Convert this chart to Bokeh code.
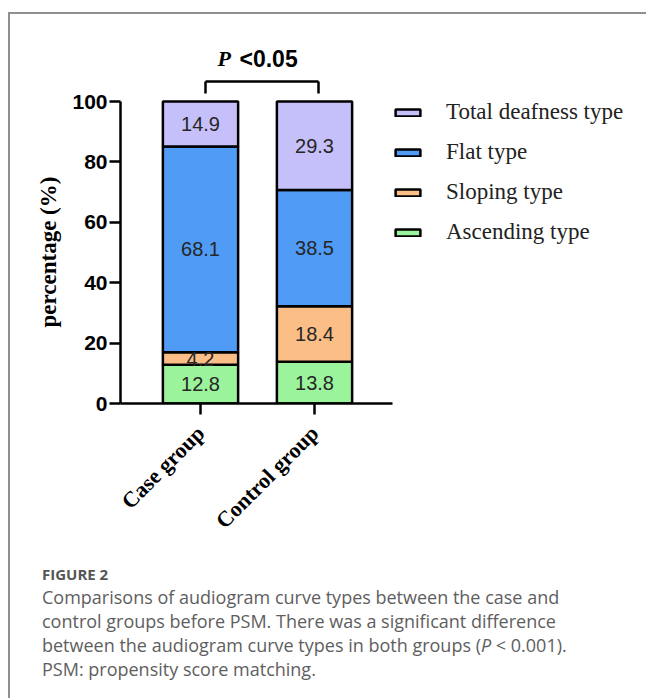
import math
from bokeh.plotting import figure
from bokeh.layouts import column
from bokeh.models import (ColumnDataSource, Range1d, FixedTicker, Div, Title,
                          Legend, LegendItem, Label, Arrow)
from bokeh.embed import file_html
from bokeh.resources import INLINE
from bokeh.core.properties import value

# ---------------- data ----------------
groups = ["Case group", "Control group"]
types = ["Ascending type", "Sloping type", "Flat type", "Total deafness type"]
ascending = [12.8, 13.8]
sloping = [4.2, 18.4]
flat = [68.1, 38.5]
total_deafness = [14.9, 29.3]
y_ticks = [0, 20, 40, 60, 80, 100]
y_label = "percentage (%)"
sig_text = ["P", "<0.05"]
caption_head = "FIGURE 2"
caption_lines = [
    "Comparisons of audiogram curve types between the case and",
    "control groups before PSM. There was a significant difference",
    "between the audiogram curve types in both groups (<i>P</i> &lt; 0.001).",
    "PSM: propensity score matching.",
]

colors = ["#9BF39B", "#FBBE86", "#4F9BF5", "#C5C0F9"]

# ---------------- layout constants ----------------
ORG_X, ORG_Y = 10, 14          # page position of the chart canvas (inside border)
W1, H1 = 634, 546
ML, MB = 110, 157
FRAME_W = W1 - ML
FRAME_H = H1 - MB
PPU_X, PPU_Y = 114.0, 3.02
xpos = [i + 1 for i in range(len(groups))]
X_START = xpos[0] - (200 - (ORG_X + ML)) / PPU_X
X_END = X_START + FRAME_W / PPU_X
Y_END = FRAME_H / PPU_Y
X_AXIS_END = xpos[-1] + (392 - 314) / PPU_X


def px_x(page_x):
    return X_START + (page_x - (ORG_X + ML)) / PPU_X


def px_y(page_y):
    return ((ORG_Y + FRAME_H) - page_y) / PPU_Y


p = figure(width=W1, height=H1,
           x_range=Range1d(X_START, X_END), y_range=Range1d(0, Y_END),
           output_backend="svg", toolbar_location=None,
           min_border_left=ML, min_border_right=0,
           min_border_top=0, min_border_bottom=MB)
p.xgrid.visible = False
p.ygrid.visible = False
p.outline_line_color = None

source = ColumnDataSource(dict(x=xpos, ascending=ascending, sloping=sloping,
                               flat=flat, total=total_deafness))
stackers = ["ascending", "sloping", "flat", "total"]
renderers = p.vbar_stack(stackers, x="x", width=0.66, fill_color=colors,
                         line_color="black", line_width=2.5, source=source)

# value labels
series = [ascending, sloping, flat, total_deafness]
lx, ly, lt = [], [], []
for i, xv in enumerate(xpos):
    base = 0.0
    for s in series:
        v = s[i]
        lx.append(xv)
        ly.append(base + v / 2.0)
        lt.append(f"{v:.1f}")
        base += v
p.text(x="x", y="y", text="t", source=ColumnDataSource(dict(x=lx, y=ly, t=lt)),
       text_align="center", text_baseline="middle",
       text_font=value("Liberation Sans"), text_font_size="20px",
       text_color="#262626")

# axes
yax = p.yaxis[0]
yax.ticker = FixedTicker(ticks=y_ticks)
yax.bounds = (0, 100)
yax.axis_line_width = 2.5
yax.major_tick_line_width = 2.5
yax.major_tick_out = 11
yax.major_tick_in = 0
yax.minor_tick_out = 0
yax.minor_tick_in = 0
yax.major_label_standoff = 2
yax.major_label_text_font = "Liberation Sans"
yax.major_label_text_font_style = "bold"
yax.major_label_text_font_size = "21px"
yax.major_label_text_color = "black"

# y-axis title placed along the 0-100 span (frame also holds the bracket above)
p.add_layout(Title(text=y_label, align="left", offset=76,
                   text_font="Liberation Serif", text_font_style="bold",
                   text_font_size="23px", text_color="black", standoff=17),
             "left")

xax = p.xaxis[0]
xax.ticker = FixedTicker(ticks=xpos)
xax.major_label_overrides = {xv: g for xv, g in zip(xpos, groups)}
xax.bounds = (X_START, X_AXIS_END)
xax.axis_line_width = 2.5
xax.major_tick_line_width = 2.5
xax.major_tick_out = 11
xax.major_tick_in = 0
xax.minor_tick_out = 0
xax.minor_tick_in = 0
xax.major_label_orientation = math.pi / 4
xax.major_label_standoff = 15
xax.major_label_text_font = "Liberation Serif"
xax.major_label_text_font_style = "bold"
xax.major_label_text_font_size = "22px"
xax.major_label_text_color = "black"

# significance bracket
bx0, bx1 = px_x(205), px_x(318)
by_top, by_bot = px_y(81), px_y(93)
for (xs, ys, xe, ye) in [(bx0, by_bot, bx0, by_top), (bx0, by_top, bx1, by_top),
                         (bx1, by_top, bx1, by_bot)]:
    p.add_layout(Arrow(end=None, x_start=xs, y_start=ys, x_end=xe, y_end=ye,
                       line_color="black", line_width=2.5))
p.add_layout(Label(x=px_x(217), y=px_y(58), text=sig_text[0],
                   text_font="Liberation Serif", text_font_style="bold italic",
                   text_font_size="22px", text_color="black",
                   text_baseline="alphabetic"))
p.add_layout(Label(x=px_x(239), y=px_y(58), text=sig_text[1],
                   text_font="Liberation Sans", text_font_style="bold",
                   text_font_size="23px", text_color="black",
                   text_baseline="alphabetic"))

# legend (pixel offsets from frame bottom-left)
items = [LegendItem(label=types[k], renderers=[renderers[k]]) for k in [3, 2, 1, 0]]
legend = Legend(items=items, location=(272, 158), glyph_width=31, glyph_height=9,
                label_standoff=23, label_text_font="Liberation Serif",
                label_text_font_size="23px", label_text_color="#222222",
                label_height=26, spacing=14, padding=3, margin=0,
                border_line_color=None, background_fill_alpha=0)
p.add_layout(legend)

# ---------------- caption ----------------
lines_html = "<br>".join(caption_lines)
caption_html = (
    "<div style='padding-left:27px; padding-top:0px; font-family:\"Open Sans\", sans-serif; "
    "white-space:nowrap;'>"
    f"<div style='font-size:15px; font-weight:bold; line-height:18px; color:#555555;'>{caption_head}</div>"
    f"<div style='margin-top:2px; font-size:18px; line-height:24px; color:#5e5e5e;'>{lines_html}</div>"
    "</div>"
)
cap = Div(text=caption_html, width=W1, height=136)

page = column(p, cap, spacing=0,
              styles={"border-left": "2px solid #8f8f8f",
                      "border-top": "2px solid #8f8f8f",
                      "margin-top": "12px", "margin-left": "8px"})

open("out.html", "w").write(file_html(page, INLINE))
